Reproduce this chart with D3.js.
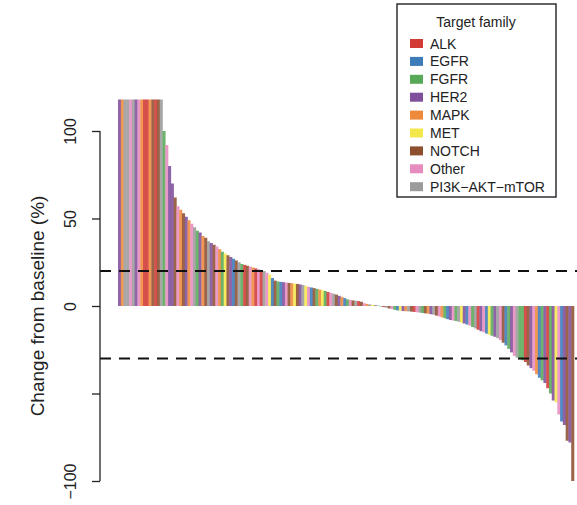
<!DOCTYPE html>
<html>
<head>
<meta charset="utf-8">
<script src="https://cdn.jsdelivr.net/npm/d3@7"></script>
<style>
  body { margin: 0; background: #fff; }
  svg { font-family: "Liberation Sans", Arial, Helvetica, sans-serif; }
</style>
</head>
<body>
<div id="chart"></div>
<script>
// target families (legend order) and their colours
const families = ['ALK', 'EGFR', 'FGFR', 'HER2', 'MAPK', 'MET', 'NOTCH', 'Other', 'PI3K\u2212AKT\u2212mTOR'];
const familyCodes = ['A', 'E', 'F', 'H', 'M', 'T', 'N', 'O', 'P'];
const familyColors = ['#d23a35', '#3e7bb9', '#58a957', '#7f4f9c', '#ee8a3b', '#f2e84c', '#8e4f2f', '#e78cbf', '#9b9b9b'];

// change from baseline (%) per patient, sorted (capped at ~118)
const changes = [
    118, 118, 118, 118, 118, 118, 118, 118, 118, 118, 118, 118, 118, 118, 118, 118,
    100, 92, 80, 70, 62, 57, 55, 53, 51, 49, 47, 45, 43, 42, 40, 39,
    37, 36, 35, 34, 32.5, 31, 30, 29, 28, 27, 26, 25, 24, 23.5, 23, 22.5,
    22, 21.5, 21, 20.5, 20, 19, 18, 16, 14.5, 14, 13.8, 13.6, 13.4, 13.2, 13, 12.8,
    12.6, 12.3, 12, 11.5, 11, 10.6, 10.2, 9.8, 9.4, 9, 8.6, 8, 7.5, 7, 6.5, 5.8,
    5.2, 4.5, 3.8, 3.4, 3.2, 3, 2.8, 2.4, 1.6, 1.2, 0.9, 0.6, 0.4, 0.2, -0.3, -0.6,
    -1, -1.4, -1.8, -2.2, -2.5, -2.7, -2.9, -3, -3.1, -3.2, -3.4, -3.6, -3.8, -4, -4.2, -4.4,
    -4.7, -5, -5.5, -6, -6.5, -7, -7.5, -8, -8.3, -8.6, -9, -9.5, -10, -10.6, -11.2, -12,
    -12.8, -13.6, -14.4, -15, -15.8, -16.5, -17, -17.6, -18.4, -19.5, -21, -22.5, -24.5, -26.5, -28.5, -29.5,
    -30.5, -31, -32, -34, -35.5, -37, -39, -41, -42.5, -44, -47, -50, -54, -55, -62, -66,
    -68, -77, -78, -100
];

// family of each bar, same order as changes
const barFamily = [
    'H', 'M', 'P', 'P', 'O', 'P', 'H', 'O', 'M', 'A', 'A', 'M', 'N', 'A', 'N', 'P',
    'F', 'O', 'H', 'H', 'N', 'O', 'M', 'N', 'H', 'M', 'O', 'P', 'F', 'H', 'M', 'N',
    'P', 'H', 'N', 'O', 'M', 'F', 'T', 'N', 'H', 'E', 'N', 'P', 'F', 'A', 'N', 'O',
    'M', 'A', 'O', 'A', 'P', 'O', 'T', 'E', 'N', 'F', 'E', 'H', 'O', 'N', 'M', 'T',
    'N', 'H', 'P', 'T', 'O', 'E', 'N', 'F', 'M', 'T', 'F', 'A', 'O', 'P', 'N', 'H',
    'M', 'E', 'F', 'O', 'N', 'P', 'A', 'N', 'O', 'M', 'P', 'T', 'N', 'E', 'F', 'A',
    'P', 'N', 'O', 'F', 'E', 'T', 'H', 'M', 'P', 'N', 'A', 'O', 'P', 'F', 'N', 'M',
    'H', 'P', 'N', 'O', 'M', 'F', 'E', 'H', 'O', 'F', 'P', 'T', 'H', 'E', 'O', 'F',
    'P', 'A', 'H', 'O', 'E', 'T', 'F', 'H', 'P', 'O', 'N', 'E', 'F', 'H', 'O', 'P',
    'F', 'F', 'A', 'N', 'H', 'O', 'M', 'E', 'F', 'H', 'A', 'F', 'H', 'T', 'O', 'E',
    'H', 'N', 'H', 'N'
];

const yTicks = [100, 50, 0, -50, -100];
const yTickLabels = ['100', '50', '0', '', '\u2212100'];
const thresholds = [20, -30];

const width = 577, height = 505;

const svg = d3.select('#chart').append('svg')
    .attr('width', width)
    .attr('height', height);

const xScale = d3.scaleBand().domain(d3.range(changes.length)).range([118, 574]).padding(0);
const yScale = d3.scaleLinear().domain([-100, 100]).range([481, 131]);
const color = d3.scaleOrdinal().domain(familyCodes).range(familyColors);

// bars (a bit washed out, like the scanned original)
svg.append('g').classed('bars', true)
    .selectAll('rect')
    .data(changes)
    .enter().append('rect')
    .attr('x', function (d, i) { return xScale(i); })
    .attr('width', xScale.bandwidth() + 0.3)
    .attr('y', function (d) { return d >= 0 ? yScale(d) : yScale(0); })
    .attr('height', function (d) { return Math.abs(yScale(d) - yScale(0)); })
    .attr('fill', function (d, i) { return color(barFamily[i]); })
    .attr('fill-opacity', 0.88);

// threshold lines
svg.append('g').selectAll('line')
    .data(thresholds)
    .enter().append('line')
    .attr('x1', 100).attr('x2', width)
    .attr('y1', function (d) { return yScale(d); })
    .attr('y2', function (d) { return yScale(d); })
    .attr('stroke', '#111')
    .attr('stroke-width', 1.8)
    .attr('stroke-dasharray', '11,8');

// y axis
let yAxis = d3.axisLeft(yScale).tickValues(yTicks).tickSize(8).tickPadding(0)
    .tickFormat(function (d, i) { return yTickLabels[i]; });

let yAxisG = svg.append('g')
    .attr('transform', 'translate(100,0)')
    .call(yAxis);

yAxisG.select('.domain').attr('d', 'M0,' + yScale(100) + 'V' + yScale(-100))
    .attr('stroke', '#222').attr('stroke-width', 1.3);
yAxisG.selectAll('.tick line').attr('stroke', '#222').attr('stroke-width', 1.3);
yAxisG.selectAll('.tick text')
    .attr('x', null).attr('dy', null)
    .attr('transform', 'translate(-24,0) rotate(-90)')
    .style('text-anchor', 'middle')
    .attr('fill', '#222')
    .style('font-size', '16px');

svg.append('text')
    .attr('transform', 'translate(44,' + yScale(0) + ') rotate(-90)')
    .style('text-anchor', 'middle')
    .style('font-size', '19px')
    .attr('fill', '#222')
    .text('Change from baseline (%)');

// legend
let legend = svg.append('g').attr('transform', 'translate(397,4)');
legend.append('rect')
    .attr('width', 159).attr('height', 193)
    .attr('fill', '#fff').attr('stroke', '#222').attr('stroke-width', 1.4);
legend.append('text')
    .attr('x', 79).attr('y', 23)
    .style('text-anchor', 'middle')
    .style('font-size', '14px')
    .attr('fill', '#222')
    .text('Target family');

let items = legend.selectAll('.item')
    .data(families)
    .enter().append('g').classed('item', true)
    .attr('transform', function (d, i) { return 'translate(0,' + (39.5 + i * 17.9) + ')'; });
items.append('rect')
    .attr('x', 13).attr('y', -4.5)
    .attr('width', 13).attr('height', 9)
    .attr('fill', function (d, i) { return familyColors[i]; });
items.append('text')
    .attr('x', 33).attr('y', 5)
    .style('font-size', '14px')
    .attr('fill', '#222')
    .text(function (d) { return d; });
</script>
</body>
</html>
